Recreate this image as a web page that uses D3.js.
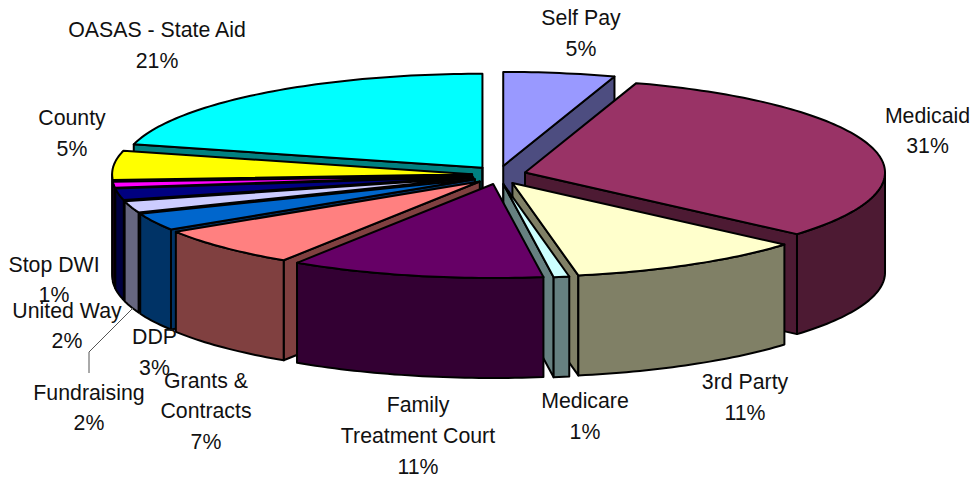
<!DOCTYPE html>
<html><head><meta charset="utf-8">
<style>html,body{margin:0;padding:0;background:#fff;overflow:hidden}svg{display:block}text{font-family:"Liberation Sans",Arial,sans-serif;font-size:21.3px;fill:#111}</style>
<script src="https://cdn.jsdelivr.net/npm/d3@7"></script></head><body>
<svg id="c" width="972" height="478"></svg>
<script>
const categories=["Self Pay","Medicaid","3rd Party","Medicare","Family Treatment Court","Grants & Contracts","DDP","Fundraising","United Way","Stop DWI","County","OASAS - State Aid"];
const values=[5,31.37,10.7,0.7,11.4,6.83,3,2,2,1,5,21];
const topColors=["#9999ff","#993366","#ffffcc","#ccffff","#660066","#ff8080","#0066cc","#ccccff","#000080","#ff00ff","#ffff00","#00ffff"];
const sideColors=["#4d4d80","#4d1a33","#808066","#668080","#330033","#804040","#003366","#666680","#000040","#800080","#808000","#008080"];
const labelLines=[["Self Pay"],["Medicaid"],["3rd Party"],["Medicare"],["Family","Treatment Court"],["Grants &","Contracts"],["DDP"],["Fundraising"],["United Way"],["Stop DWI"],["County"],["OASAS - State Aid"]];
const labelAnchors=[[581,25],[927.5,122.5],[745,389],[585,408],[418,412],[206,387.5],[154.5,344],[89,399.5],[67,317.5],[54,271.5],[72,125],[157,37]];
const paintOrder=[0,11,1,10,9,8,7,6,5,2,3,4];

const svg=d3.select("#c");
const cx=499,cy=175,rx=360,ry=94,depth=100,explodeX=27,explodeY=9.2,lineStep=30.8;
const xs=d3.scaleLinear().domain([-1,1]).range([-rx,rx]);
const ys=d3.scaleLinear().domain([-1,1]).range([-ry,ry]);
const line=d3.line();
const pie=d3.pie().sort(null).startAngle(0).endAngle(2*Math.PI);
const arcs=pie(values);
const PI=Math.PI;
function center(d){const m=(d.startAngle+d.endAngle)/2;return [cx+explodeX*Math.sin(m),cy-explodeY*Math.cos(m)];}
function rim(c,t,dz=0){return [c[0]+xs(Math.sin(t)),c[1]+ys(-Math.cos(t))+dz];}
function sweep(a,b){const n=Math.max(2,Math.ceil((b-a)/0.02));return d3.range(n+1).map(i=>a+(b-a)*i/n);}
const stroke={stroke:"#000","stroke-width":2,"stroke-linejoin":"round"};
function face(pts,fill){const p=svg.append("path").attr("d",line(pts)+"Z").attr("fill",fill);Object.entries(stroke).forEach(([k,v])=>p.attr(k,v));}

paintOrder.forEach(i=>{
  const d=arcs[i],c=center(d),a=d.startAngle,b=d.endAngle;
  const base=[c[0],c[1]+depth];
  if(Math.sin(a)<0){const e=rim(c,a);face([c,e,[e[0],e[1]+depth],base],sideColors[i]);}
  if(Math.sin(b)>0.001){const e=rim(c,b);face([c,e,[e[0],e[1]+depth],base],sideColors[i]);}
  if(Math.abs(Math.sin(b))<0.001){face([c,base],"none");}
  const s=Math.max(a,PI/2),t=Math.min(b,3*PI/2);
  if(t>s){const ts=sweep(s,t);face(ts.map(v=>rim(c,v)).concat(ts.slice().reverse().map(v=>rim(c,v,depth))),sideColors[i]);}
  face([c].concat(sweep(a,b).map(v=>rim(c,v))),topColors[i]);
});

svg.append("path").attr("d",line([[89,373],[89,352],[133,308]])).attr("fill","none").attr("stroke","#555").attr("stroke-width",1);

const labels=svg.selectAll("g.label").data(categories).join("g").attr("class","label");
labels.each(function(name,i){
  const g=d3.select(this);
  const rows=labelLines[i].concat([Math.round(values[i])+"%"]);
  rows.forEach((r,j)=>g.append("text").attr("x",labelAnchors[i][0]).attr("y",labelAnchors[i][1]+j*lineStep).attr("text-anchor","middle").text(r));
});
</script></body></html>
